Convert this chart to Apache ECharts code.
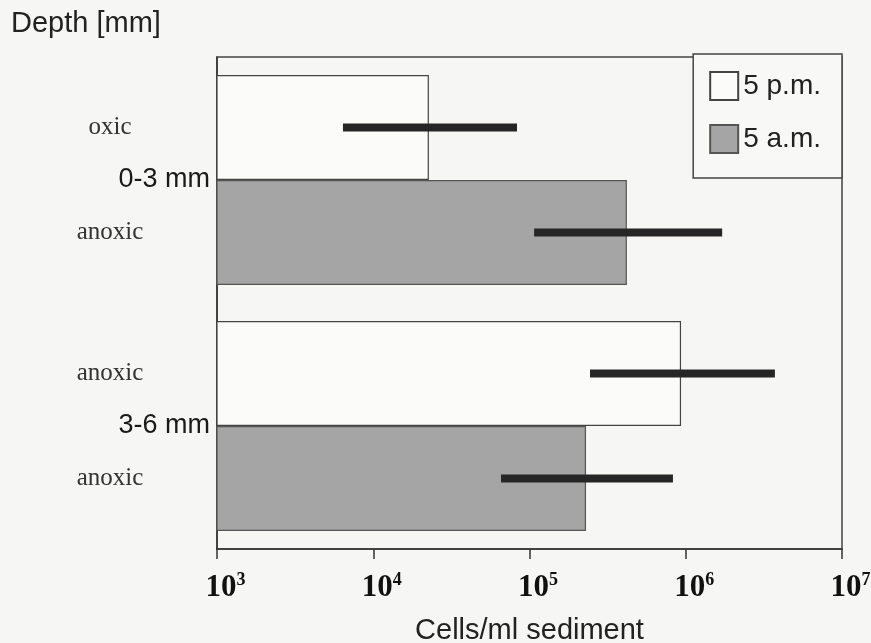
<!DOCTYPE html>
<html>
<head>
<meta charset="utf-8">
<script src="https://cdn.jsdelivr.net/npm/echarts@6/dist/echarts.min.js"></script>
<style>
  html, body { margin: 0; padding: 0; background: #f6f6f5; }
  #chart { width: 871px; height: 643px; }
</style>
</head>
<body>
<div id="chart"></div>
<script>
// ---- data ----
const depthGroups = ['0-3 mm', '3-6 mm'];
const seriesNames = ['5 p.m.', '5 a.m.'];
const layerLabelsPM = ['oxic', 'anoxic'];
const layerLabelsAM = ['anoxic', 'anoxic'];
const cellsPM = [22700, 933000];
const cellsAM = [420000, 230000];
const errLowPM = [6400, 244000];
const errHighPM = [83200, 3720000];
const errLowAM = [107000, 65700];
const errHighAM = [1710000, 828000];
const xMin = 1e3;
const xMax = 1e7;

// ---- chart ----
const BAR_FRAC = 0.427;
const chart = echarts.init(document.getElementById('chart'), null, { renderer: 'canvas' });

function errorSeries(lows, highs, labels, sign) {
  return {
    type: 'custom',
    clip: false,
    z: 5,
    encode: { x: [1, 2], y: 0 },
    data: lows.map((lo, i) => [i, lo, highs[i]]),
    renderItem: function (params, api) {
      const cat = api.value(0);
      const p1 = api.coord([api.value(1), cat]);
      const p2 = api.coord([api.value(2), cat]);
      const band = api.size([0, 1], [xMin, cat])[1];
      const yc = p1[1] + sign * band * BAR_FRAC / 2;
      const gridLeft = params.coordSys.x;
      return {
        type: 'group',
        children: [
          {
            type: 'rect',
            shape: { x: p1[0], y: yc - 4, width: p2[0] - p1[0], height: 8 },
            style: { fill: '#262626' }
          },
          {
            type: 'text',
            x: gridLeft - 107,
            y: yc,
            style: {
              text: labels[params.dataIndex],
              fill: '#333',
              font: '25px "Liberation Serif", serif',
              align: 'center',
              verticalAlign: 'middle'
            }
          }
        ]
      };
    }
  };
}

const option = {
  backgroundColor: '#f6f6f5',
  animation: false,
  title: {
    text: 'Depth [mm]',
    left: 11,
    top: 9,
    padding: 0,
    textStyle: { fontFamily: 'Liberation Sans', fontSize: 29, fontWeight: 'normal', color: '#222' }
  },
  legend: {
    data: seriesNames,
    orient: 'vertical',
    right: 29,
    top: 54,
    itemWidth: 28,
    itemHeight: 28,
    itemGap: 23,
    padding: [17, 21, 24, 16],
    backgroundColor: '#f8f8f7',
    borderColor: '#444',
    borderWidth: 1.5,
    icon: 'rect',
    textStyle: { fontFamily: 'Liberation Sans', fontSize: 28, color: '#222' }
  },
  grid: {
    left: 217, right: 29, top: 57, bottom: 94,
    outerBoundsMode: 'none',
    containLabel: false,
    show: true, borderColor: '#444', borderWidth: 1.5, backgroundColor: 'transparent'
  },
  xAxis: {
    type: 'log',
    logBase: 10,
    min: xMin,
    max: xMax,
    name: 'Cells/ml sediment',
    nameLocation: 'middle',
    nameGap: 67,
    nameTextStyle: { fontFamily: 'Liberation Sans', fontSize: 29, color: '#222' },
    axisLine: { show: true, lineStyle: { color: '#333', width: 1.5 } },
    axisTick: { show: true, length: 10, lineStyle: { color: '#333', width: 1.5 } },
    splitLine: { show: false },
    minorTick: { show: false },
    axisLabel: {
      margin: 22,
      padding: [0, 0, 0, 17],
      formatter: function (v) {
        return '{b|10}{s|' + Math.round(Math.log10(v)) + '}';
      },
      rich: {
        b: { fontFamily: 'Liberation Serif', fontWeight: 'bold', fontSize: 31, color: '#111' },
        s: { fontFamily: 'Liberation Serif', fontWeight: 'bold', fontSize: 18, color: '#111', padding: [0, 0, 15, 0] }
      }
    }
  },
  yAxis: {
    type: 'category',
    inverse: true,
    data: depthGroups,
    axisLine: { show: true, lineStyle: { color: '#333', width: 1.5 } },
    axisTick: { show: false },
    axisLabel: { margin: 7, fontFamily: 'Liberation Sans', fontSize: 27, color: '#1a1a1a' },
    splitLine: { show: false }
  },
  series: [
    {
      name: seriesNames[0],
      type: 'bar',
      barWidth: (BAR_FRAC * 100) + '%',
      barGap: '0%',
      data: cellsPM,
      itemStyle: { color: '#fbfbfa', borderColor: '#444', borderWidth: 1.2 }
    },
    {
      name: seriesNames[1],
      type: 'bar',
      barWidth: (BAR_FRAC * 100) + '%',
      barGap: '0%',
      data: cellsAM,
      itemStyle: { color: '#a5a5a5', borderColor: '#555', borderWidth: 1.2 }
    },
    errorSeries(errLowPM, errHighPM, layerLabelsPM, -1),
    errorSeries(errLowAM, errHighAM, layerLabelsAM, 1)
  ]
};
chart.setOption(option);
</script>
</body>
</html>
